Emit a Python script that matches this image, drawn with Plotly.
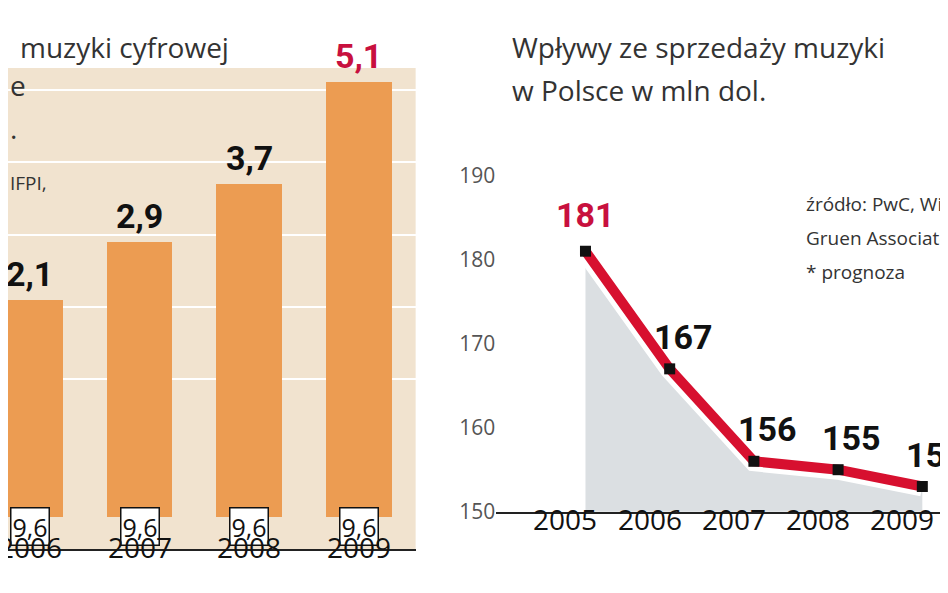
import plotly.graph_objects as go

bar_years = [2006, 2007, 2008, 2009]
bar_values = [2.1, 2.9, 3.7, 5.1]
bar_labels = ["2,1", "2,9", "3,7", "5,1"]
box_labels = ["9,6", "9,6", "9,6", "9,6"]

line_years = [2005, 2006, 2007, 2008, 2009]
line_values = [181, 167, 156, 155, 153]

fig = go.Figure()
BASE = -0.9
COND = "Roboto, Liberation Sans Narrow, sans-serif"
LIGHT = "Open Sans, Lato, sans-serif"

fig.add_shape(type="rect", xref="x domain", yref="y", x0=0, x1=1, y0=-1.34, y1=5.3,
              fillcolor="#f1e3cf", line_width=0, layer="below")
fig.add_trace(go.Bar(x=bar_years, y=[v - BASE for v in bar_values], base=BASE, width=0.6,
                     marker=dict(color="#ec9c52", line=dict(width=0)),
                     xaxis="x", yaxis="y", showlegend=False, hoverinfo="skip"))
for yr, v, lab in zip(bar_years, bar_values, bar_labels):
    fig.add_annotation(x=yr, y=v, xref="x", yref="y", text="<b>%s</b>" % lab, showarrow=False,
                       yanchor="bottom", yshift=4,
                       font=dict(family=COND, size=34, color="#c8103e" if lab == "5,1" else "#111"))
for yr, lab in zip(bar_years, box_labels):
    fig.add_annotation(x=yr, y=0.075, xref="x", yref="paper", text=lab, showarrow=False,
                       font=dict(family=LIGHT, size=25, color="#111"), bgcolor="white",
                       bordercolor="#111", borderwidth=1.5, borderpad=1)
    fig.add_annotation(x=yr, y=0.035, xref="x", yref="paper", text=str(yr), showarrow=False,
                       font=dict(family=LIGHT, size=28, color="#111"))

fig.add_trace(go.Scatter(x=line_years, y=line_values, mode="lines", fill="tozeroy",
                         fillcolor="rgba(175,185,190,0.45)", line=dict(color="white", width=20),
                         xaxis="x2", yaxis="y2", showlegend=False, hoverinfo="skip"))
fig.add_trace(go.Scatter(x=line_years, y=line_values, mode="lines+markers",
                         line=dict(color="#d7102f", width=10),
                         marker=dict(symbol="square", size=11, color="#111"),
                         xaxis="x2", yaxis="y2", showlegend=False, hoverinfo="skip"))
for yr, v in zip(line_years, line_values):
    fig.add_annotation(x=yr, y=v, xref="x2", yref="y2", text="<b>%d</b>" % v, showarrow=False,
                       yanchor="bottom", xanchor="left" if yr > 2005 else "center",
                       xshift=0 if yr == 2005 else -18, yshift=14 if yr == 2005 else 10,
                       font=dict(family=COND, size=34, color="#c8103e" if yr == 2005 else "#111"))
    fig.add_annotation(x=yr, y=0.085, xref="x2", yref="paper", text=str(yr), showarrow=False,
                       xshift=-20, font=dict(family=LIGHT, size=28, color="#111"))

texts = [
    (10, 25, "muzyki cyfrowej", 28), (0, 65, "e", 28), (0, 110, ".", 28), (0, 168, "IFPI,", 19),
    (502, 25, "Wpływy ze sprzedaży muzyki", 28), (502, 70, "w Polsce w mln dol.", 28),
    (796, 190, "źródło: PwC, Wilkofsky", 19), (796, 226, "Gruen Associates", 19),
    (796, 261, "* prognoza", 19),
]
for px, py, t, s in texts:
    fig.add_annotation(x=px / 948, y=1 - py / 593, xref="paper", yref="paper", text=t,
                       showarrow=False, xanchor="left", yanchor="middle",
                       font=dict(family=LIGHT, size=s, color="#333"))

fig.update_layout(
    width=948, height=593, margin=dict(l=0, r=0, t=0, b=0),
    paper_bgcolor="white", plot_bgcolor="rgba(0,0,0,0)", bargap=0,
    xaxis=dict(domain=[0, 0.43], range=[2005.8, 2009.52], showticklabels=False,
               ticks="", showgrid=False, zeroline=False,
               showline=True, linecolor="#222", linewidth=2),
    yaxis=dict(domain=[0.069, 1], range=[-1.34, 5.92], tickvals=[1, 2, 3, 4, 5],
               showticklabels=False, showgrid=True, gridcolor="white", gridwidth=2, zeroline=False),
    xaxis2=dict(domain=[0.515, 1], range=[2003.94, 2009.4], showticklabels=False,
                ticks="", showgrid=False, zeroline=False,
                showline=True, linecolor="#222", linewidth=2, anchor="y2"),
    yaxis2=dict(domain=[0.135, 0.73], range=[150, 190], tickvals=[150, 160, 170, 180, 190],
                showgrid=True, gridcolor="white", gridwidth=1.5, zeroline=False, anchor="x2",
                ticks="", tickfont=dict(family=LIGHT, size=21, color="#555")),
)
fig.write_html("out.html")
